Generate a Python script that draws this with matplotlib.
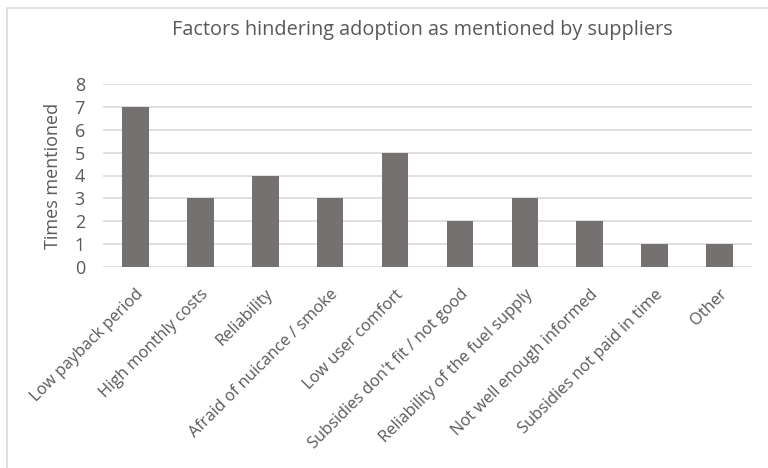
import matplotlib
matplotlib.use('Agg')
import matplotlib.pyplot as plt
from matplotlib.patches import Rectangle

factors = ['Low payback period', 'High monthly costs', 'Reliability',
           'Afraid of nuicance / smoke', 'Low user comfort',
           "Subsidies don't fit / not good", 'Reliability of the fuel supply',
           'Not well enough informed', 'Subsidies not paid in time', 'Other']
times = [7, 3, 4, 3, 5, 2, 3, 2, 1, 1]
yticks = [0, 1, 2, 3, 4, 5, 6, 7, 8]

txt = '#595959'
plt.rcParams['font.family'] = ['Open Sans', 'DejaVu Sans']

fig = plt.figure(figsize=(7.68, 4.68), dpi=100)
fig.patch.set_facecolor('white')
# chart area frame (only top and left edge are inside the image)
fig.patches.append(Rectangle((7 / 768, -0.5), 2, 1.5 - 8 / 468, transform=fig.transFigure,
                             fill=False, edgecolor='#D9D9D9', linewidth=1.2))

ax = fig.add_axes([103 / 768, 201 / 468, 649 / 768, 183 / 468])
x = range(len(factors))
ax.bar(x, times, width=0.41, color='#767171', zorder=3)
ax.set_xlim(-0.5, len(factors) - 0.5)
ax.set_ylim(0, 8)
ax.set_yticks(yticks)
ax.yaxis.grid(True, color='#D9D9D9', linewidth=1.2, zorder=0)
for s in ax.spines.values():
    s.set_visible(False)
ax.tick_params(length=0, colors=txt, labelsize=13)
ax.tick_params(axis='y', pad=13)
ax.tick_params(axis='x', pad=14)
ax.set_xticks(list(x))
ax.set_xticklabels(factors, rotation=45, ha='right', rotation_mode='anchor', fontsize=11.8)
ax.set_ylabel('Times mentioned', color=txt, fontsize=13, labelpad=9)
fig.text(422 / 768, 1 - 30 / 468, 'Factors hindering adoption as mentioned by suppliers',
         ha='center', va='center', color=txt, fontsize=14.3)

fig.savefig('out.png', dpi=100)
